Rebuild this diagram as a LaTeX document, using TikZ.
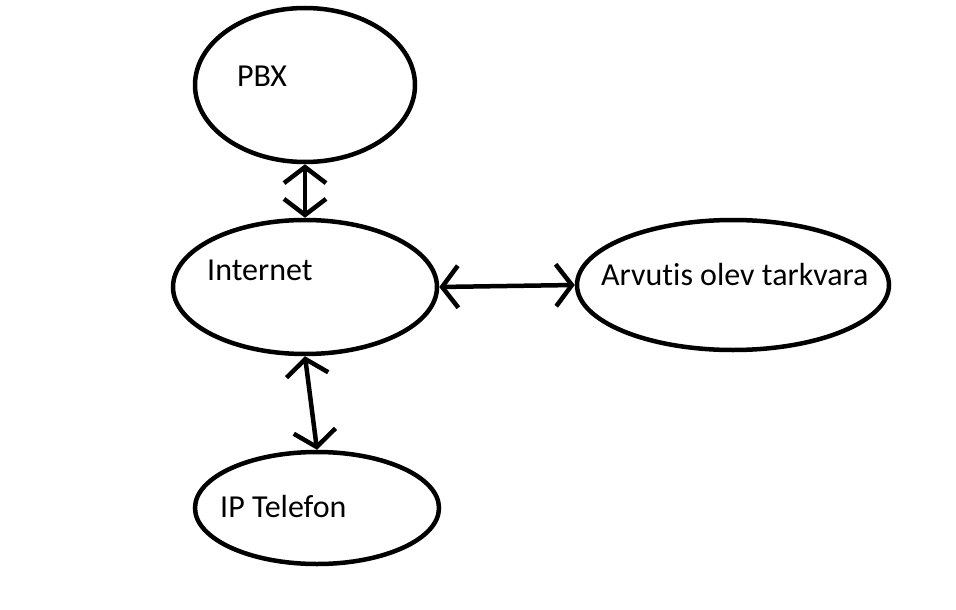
\documentclass[tikz,border=0pt]{standalone}
\usepackage{fontspec}
\setmainfont[Ligatures=NoCommon]{Carlito}
\usetikzlibrary{shapes.geometric,arrows.meta}
\begin{document}
\begin{tikzpicture}[x=1pt,y=-1pt,
  oval/.style={draw,ellipse,line width=4.5pt,inner sep=0pt},
  lbl/.style={anchor=base west,inner sep=0pt,font=\fontsize{32}{38}\selectfont},
  link/.style={line width=4.5pt,{Straight Barb[length=16pt,width=42pt]}-{Straight Barb[length=16pt,width=42pt]}}]
\useasboundingbox[fill=white] (0,0) rectangle (956,610);
\node[oval,minimum width=220pt,minimum height=154pt] (pbx) at (305,85) {};
\node[oval,minimum width=264pt,minimum height=134pt] (inet) at (305,287) {};
\node[oval,minimum width=312pt,minimum height=130pt] (arv) at (733,285) {};
\node[oval,minimum width=244pt,minimum height=112pt] (ip) at (317,508) {};
\node[lbl] (tpbx) at (237,86) {PBX};
\node[lbl] (tinet) at (207,280) {Internet};
\node[lbl] (tarv) at (601,285) {Arvutis olev tarkvara};
\node[lbl] (tip) at (220,517) {IP Telefon};
\draw[link] (pbx.south) -- (inet.north);
\draw[link] (inet.south) -- (ip.north);
\draw[link] (inet.east) -- (arv.west);
\end{tikzpicture}
\end{document}
